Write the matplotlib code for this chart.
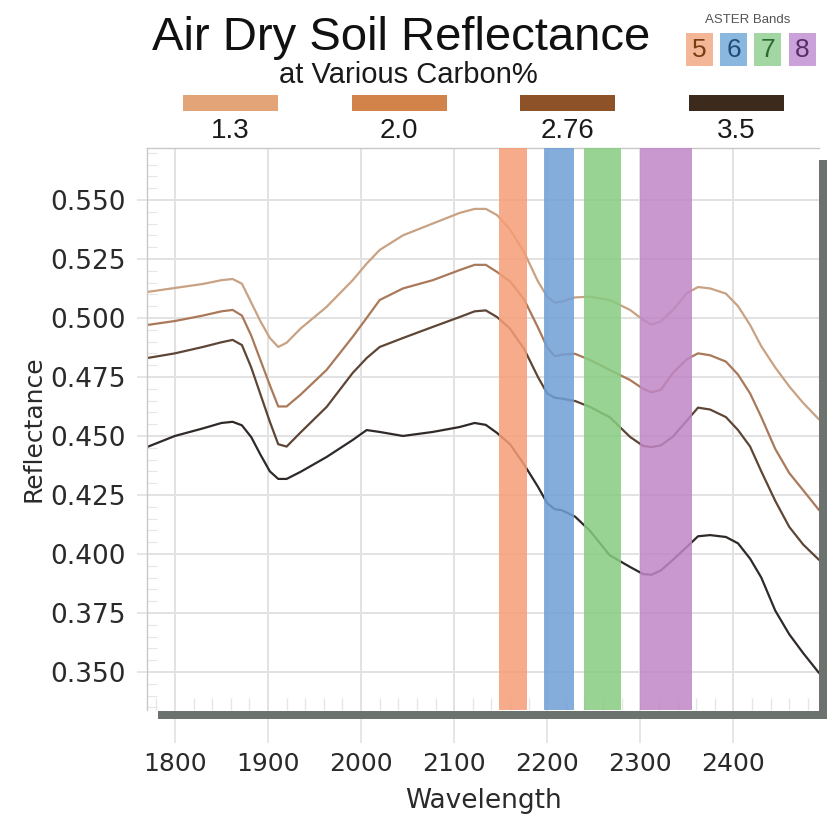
import matplotlib
matplotlib.use("Agg")
import matplotlib.pyplot as plt
from matplotlib.patches import Rectangle
import numpy as np

# wavelength grid (nm) and reflectance
wavelength = [1770, 1800, 1830, 1850, 1862, 1872, 1882, 1892, 1902, 1911, 1920, 1935,
              1963, 1991, 2006, 2020, 2045, 2077, 2106, 2122, 2134, 2146, 2160, 2175,
              2190, 2200, 2208, 2216, 2230, 2246, 2267, 2289, 2303, 2312, 2322, 2335,
              2350, 2362, 2375, 2392, 2405, 2418, 2430, 2445, 2460, 2475, 2492]

refl_13 = [0.511, 0.5127, 0.5144, 0.516, 0.5165, 0.5145, 0.5065, 0.4985, 0.4915, 0.4877,
           0.4895, 0.4955, 0.5047, 0.516, 0.523, 0.5288, 0.535, 0.540, 0.5445, 0.5462,
           0.5462, 0.5436, 0.5375, 0.528, 0.5155, 0.509, 0.5065, 0.507, 0.5087, 0.509,
           0.5076, 0.5034, 0.4992, 0.4972, 0.4985, 0.5034, 0.5105, 0.5131, 0.5125, 0.5103,
           0.505, 0.497, 0.488, 0.479, 0.471, 0.464, 0.457]
refl_20 = [0.497, 0.4987, 0.501, 0.5028, 0.5034, 0.501, 0.4925, 0.482, 0.4715, 0.4625,
           0.4625, 0.4675, 0.478, 0.492, 0.500, 0.5076, 0.5125, 0.516, 0.5203, 0.5225,
           0.5225, 0.5195, 0.5155, 0.508, 0.496, 0.4875, 0.4838, 0.4845, 0.4848, 0.4822,
           0.478, 0.4737, 0.470, 0.4685, 0.4695, 0.4767, 0.4825, 0.485, 0.4842, 0.4815,
           0.476, 0.468, 0.458, 0.4445, 0.4343, 0.427, 0.4186]
refl_276 = [0.483, 0.485, 0.4877, 0.4897, 0.4907, 0.4885, 0.479, 0.4675, 0.456, 0.4465,
            0.4455, 0.4515, 0.4623, 0.4767, 0.483, 0.4877, 0.4915, 0.4962, 0.5004, 0.5028,
            0.5032, 0.5004, 0.4955, 0.487, 0.475, 0.468, 0.4662, 0.4658, 0.4648, 0.4623,
            0.458, 0.4496, 0.4458, 0.4453, 0.446, 0.4497, 0.4565, 0.462, 0.4612, 0.458,
            0.4525, 0.4455, 0.435, 0.4225, 0.4115, 0.404, 0.3975]
refl_35 = [0.4453, 0.4500, 0.4532, 0.4555, 0.456, 0.4545, 0.4495, 0.442, 0.435, 0.4318,
           0.4318, 0.4348, 0.4411, 0.4483, 0.4525, 0.4517, 0.450, 0.4517, 0.4538, 0.4555,
           0.4547, 0.4513, 0.4465, 0.438, 0.4285, 0.4215, 0.419, 0.4185, 0.4158, 0.4098,
           0.3995, 0.3945, 0.3915, 0.3912, 0.393, 0.3975, 0.403, 0.4075, 0.408, 0.4072,
           0.4045, 0.398, 0.390, 0.376, 0.366, 0.358, 0.3496]

carbon_labels = ["1.3", "2.0", "2.76", "3.5"]
carbon_bar_colors = ["#e3a578", "#d1834a", "#8e5228", "#3c2b1d"]
line_colors = ["#c9a283", "#a9795a", "#5e4636", "#2f2a28"]

# ASTER SWIR bands (nm)
band_names = ["5", "6", "7", "8"]
band_lo = [2148, 2197, 2240, 2300]
band_hi = [2178, 2229, 2279, 2356]
band_colors = ["#f59d76", "#6f9fd6", "#86cc80", "#bf86c6"]
band_box_colors = ["#f3b797", "#8ab7de", "#a2d6a3", "#caa2d9"]
band_digit_colors = ["#7a3c12", "#1d4b7a", "#2c6a32", "#5b2c6b"]

fig = plt.figure(figsize=(8.27, 8.15), dpi=100)
W, H = 827, 815


def fx(px):
    return px / W


def fy(py):
    return 1 - py / H


ax = fig.add_axes([fx(147), fy(710), fx(819) - fx(147), fy(148) - fy(710)])

for refl, col in zip([refl_13, refl_20, refl_276, refl_35], line_colors):
    ax.plot(wavelength, refl, color=col, lw=1.6, zorder=2,
            solid_joinstyle="round", solid_capstyle="round")

for lo, hi, col in zip(band_lo, band_hi, band_colors):
    ax.axvspan(lo, hi, color=col, alpha=0.85, lw=0, zorder=3)

ax.set_xlim(1770, 2492)
ax.set_ylim(0.3339, 0.572)
ax.set_xticks(np.arange(1800, 2401, 100))
ax.set_yticks(np.arange(0.350, 0.5501, 0.025))
ax.set_yticklabels([f"{v:.3f}" for v in np.arange(0.350, 0.5501, 0.025)])
ax.set_xticks(np.arange(1780, 2492, 20), minor=True)
ax.set_yticks(np.arange(0.335, 0.572, 0.005), minor=True)

ax.grid(True, which="major", color="#e2e2e2", lw=1.4, zorder=0)
ax.set_axisbelow(True)
ax.tick_params(axis="x", which="major", length=24, width=1.3, color="#e4e4e4",
               labelsize=18, labelcolor="#2a2a2a", pad=6)
ax.tick_params(axis="y", which="major", length=7, width=1.3, color="#e4e4e4",
               labelsize=19, labelcolor="#2a2a2a", pad=8)
ax.tick_params(axis="x", which="minor", direction="in", length=9, width=1.0, color="#e6e6e6")
ax.tick_params(axis="y", which="minor", direction="in", length=7, width=0.8, color="#e6e6e6")

for side in ["left", "top"]:
    ax.spines[side].set_color("#c8c8c8")
    ax.spines[side].set_linewidth(1.0)
for side in ["right", "bottom"]:
    ax.spines[side].set_visible(False)

ax.set_xlabel("Wavelength", fontsize=19, color="#2a2a2a", labelpad=9)
ax.set_ylabel("Reflectance", fontsize=18, color="#2a2a2a", labelpad=4)

# drop shadow along bottom and right edges
shadow = "#6c726e"
fig.add_artist(Rectangle((fx(158), fy(719)), fx(827) - fx(158), fy(711) - fy(719),
                         transform=fig.transFigure, color=shadow, lw=0))
fig.add_artist(Rectangle((fx(819), fy(719)), fx(827) - fx(819), fy(160) - fy(719),
                         transform=fig.transFigure, color=shadow, lw=0))

# titles
fig.text(fx(401), fy(38), "Air Dry Soil Reflectance", ha="center", va="center",
         fontsize=34, family="Liberation Sans", color="#111111")
fig.text(fx(408), fy(75), "at Various Carbon%", ha="center", va="center",
         fontsize=21, family="Liberation Sans", color="#1a1a1a")

# carbon% legend bars
bar_left = [183, 352, 520, 689]
for x0, lab, col in zip(bar_left, carbon_labels, carbon_bar_colors):
    fig.add_artist(Rectangle((fx(x0), fy(111)), fx(95), fy(95) - fy(111),
                             transform=fig.transFigure, color=col, lw=0))
    fig.text(fx(x0 + 47), fy(131), lab, ha="center", va="center", fontsize=20,
             family="Liberation Sans", color="#1a1a1a")

# ASTER band key
fig.text(fx(748), fy(20), "ASTER Bands", ha="center", va="center", fontsize=9.5,
         family="Liberation Sans", color="#555555")
box_left = [686, 720, 754, 789]
for x0, name, bc, dc in zip(box_left, band_names, band_box_colors, band_digit_colors):
    fig.add_artist(Rectangle((fx(x0), fy(66)), fx(27), fy(33) - fy(66),
                             transform=fig.transFigure, color=bc, lw=0))
    fig.text(fx(x0 + 13.5), fy(50), name, ha="center", va="center", fontsize=19,
             family="Liberation Sans", color=dc)

fig.savefig("out.png", dpi=100, facecolor="white")
